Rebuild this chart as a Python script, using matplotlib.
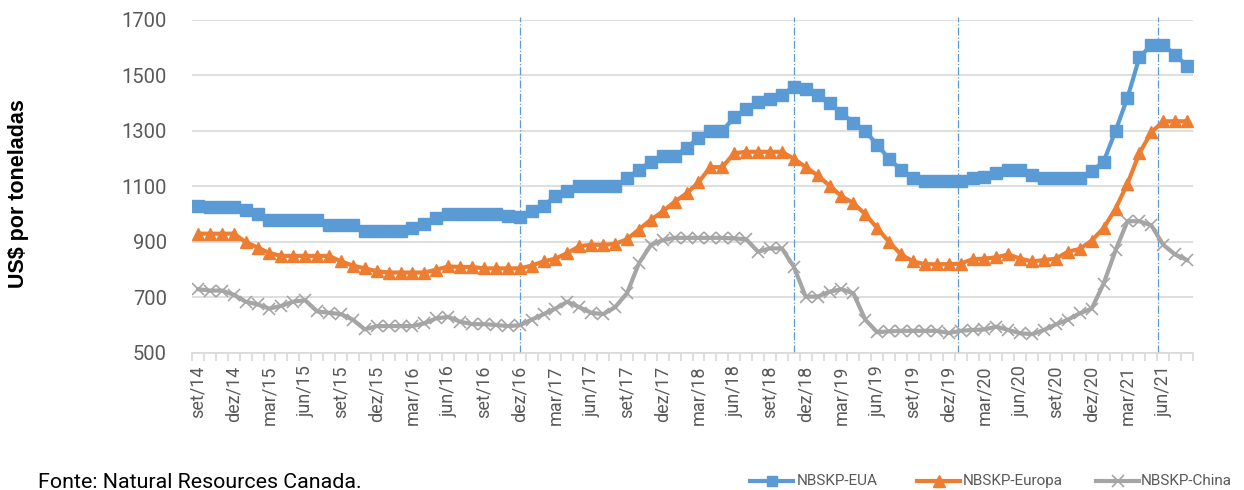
import matplotlib
matplotlib.use("Agg")
import matplotlib.pyplot as plt
from matplotlib.lines import Line2D

plt.rcParams['font.family'] = ['Roboto', 'DejaVu Sans']

# ---- data (monthly, set/14 .. ago/21) ----
eua = [1030, 1025, 1025, 1025, 1015, 1000, 980, 980, 980, 980, 980, 960, 960, 960,
       940, 940, 940, 940, 950, 965, 985, 1000, 1000, 1000, 1000, 1000, 995, 990,
       1010, 1030, 1065, 1085, 1100, 1100, 1100, 1100, 1130, 1160, 1190, 1210, 1210,
       1240, 1275, 1300, 1300, 1350, 1380, 1405, 1415, 1430, 1460, 1450, 1430, 1400,
       1365, 1330, 1300, 1250, 1200, 1160, 1130, 1120, 1120, 1120, 1120, 1130, 1135,
       1150, 1160, 1160, 1140, 1130, 1130, 1130, 1130, 1155, 1190, 1300, 1420, 1565,
       1610, 1610, 1575, 1535]
europa = [930, 930, 930, 930, 900, 880, 860, 850, 850, 850, 850, 850, 830, 815,
          805, 795, 790, 790, 790, 790, 800, 812, 810, 810, 805, 805, 805, 805,
          815, 830, 840, 860, 885, 890, 890, 893, 910, 945, 980, 1010, 1045, 1075,
          1115, 1170, 1170, 1220, 1225, 1225, 1225, 1225, 1200, 1170, 1140, 1103,
          1065, 1040, 1000, 950, 900, 855, 830, 820, 820, 820, 822, 838, 840, 845,
          855, 840, 830, 835, 840, 865, 875, 905, 950, 1020, 1110, 1220, 1295,
          1335, 1335, 1335]
china = [730, 725, 725, 710, 685, 675, 660, 670, 685, 690, 650, 645, 640, 620,
         585, 597, 597, 597, 597, 607, 625, 630, 613, 604, 604, 601, 597, 600,
         620, 640, 660, 685, 665, 645, 640, 665, 715, 823, 889, 907, 915, 915,
         915, 915, 915, 913, 910, 865, 877, 877, 811, 703, 703, 721, 730, 715,
         620, 575, 578, 580, 580, 580, 580, 572, 580, 583, 585, 595, 583, 571,
         568, 583, 603, 620, 643, 660, 750, 870, 975, 975, 960, 890, 855, 835]

tick_labels = ['set/14', 'dez/14', 'mar/15', 'jun/15', 'set/15', 'dez/15', 'mar/16',
               'jun/16', 'set/16', 'dez/16', 'mar/17', 'jun/17', 'set/17', 'dez/17',
               'mar/18', 'jun/18', 'set/18', 'dez/18', 'mar/19', 'jun/19', 'set/19',
               'dez/19', 'mar/20', 'jun/20', 'set/20', 'dez/20', 'mar/21', 'jun/21']
vlines_pos = [27, 50, 63.8, 80.6]
series_names = ['NBSKP-EUA', 'NBSKP-Europa', 'NBSKP-China']

# ---- figure ----
W, H = 1244, 490
fig = plt.figure(figsize=(W / 100, H / 100), dpi=100)
L, R, T, B = 192, 1193, 20, 353
ax = fig.add_axes([L / W, 1 - B / H, (R - L) / W, (B - T) / H])

n = len(eua)
x = list(range(n))
blue, orange, gray = '#5B9BD5', '#ED7D31', '#A5A5A5'
lw = 3.0
styles = [dict(color=blue, marker='s', ms=8.5),
          dict(color=orange, marker='^', ms=9),
          dict(color=gray, marker='x', ms=9, mew=1.2)]
for vals, st in zip([eua, europa, china], styles):
    ax.plot(x, vals, lw=lw, zorder=3, **st)

for v in vlines_pos:
    ax.plot([v, v], [500, 1712], color=blue, lw=0.9, ls='-.', zorder=2, clip_on=False)

ax.set_xlim(-0.5, n - 0.5)
ax.set_ylim(500, 1700)
ax.set_yticks(range(500, 1701, 200))
ax.yaxis.grid(True, color='#D9D9D9', lw=1.2)
ax.set_axisbelow(True)
for s in ['top', 'right', 'left']:
    ax.spines[s].set_visible(False)
ax.spines['bottom'].set_color('#D9D9D9')
ax.spines['bottom'].set_linewidth(1.2)

ax.set_xticks(range(0, n, 3))
ax.set_xticklabels(tick_labels, rotation=90, fontsize=13, color='#595959')
ax.set_xticks([i - 0.5 for i in range(n + 1)], minor=True)
ax.tick_params(axis='x', which='major', length=0, pad=9)
ax.tick_params(axis='x', which='minor', length=6, color='#D9D9D9', width=1.2)
ax.tick_params(axis='y', length=0, labelsize=14.5, labelcolor='#595959', pad=18)

fig.text(19 / W, 1 - 194 / H, 'US$ por toneladas', rotation=90, fontsize=15.5,
         fontweight='bold', ha='center', va='center', color='black',
         family=['Liberation Sans', 'DejaVu Sans'])
fig.text(38 / W, 1 - 488 / H, 'Fonte: Natural Resources Canada.', fontsize=15.4,
         ha='left', va='baseline', color='black')

# ---- legend (manual placement) ----
leg_y = 1 - 481 / H
leg_items = [(750, 793, 797), (917, 960, 963), (1096, 1139, 1141)]
for (x0, x1, xt), st, name in zip(leg_items, styles, series_names):
    fig.add_artist(Line2D([x0 / W, x1 / W], [leg_y, leg_y], lw=lw,
                          color=st['color'], transform=fig.transFigure))
    mst = dict(st)
    mst['ms'] = st['ms'] * 0.9
    fig.add_artist(Line2D([(x0 + x1) / 2 / W], [leg_y], lw=0, transform=fig.transFigure, **mst))
    fig.text(xt / W, leg_y, name, fontsize=11, color='#595959', ha='left', va='center')

fig.savefig('out.png', dpi=100)
